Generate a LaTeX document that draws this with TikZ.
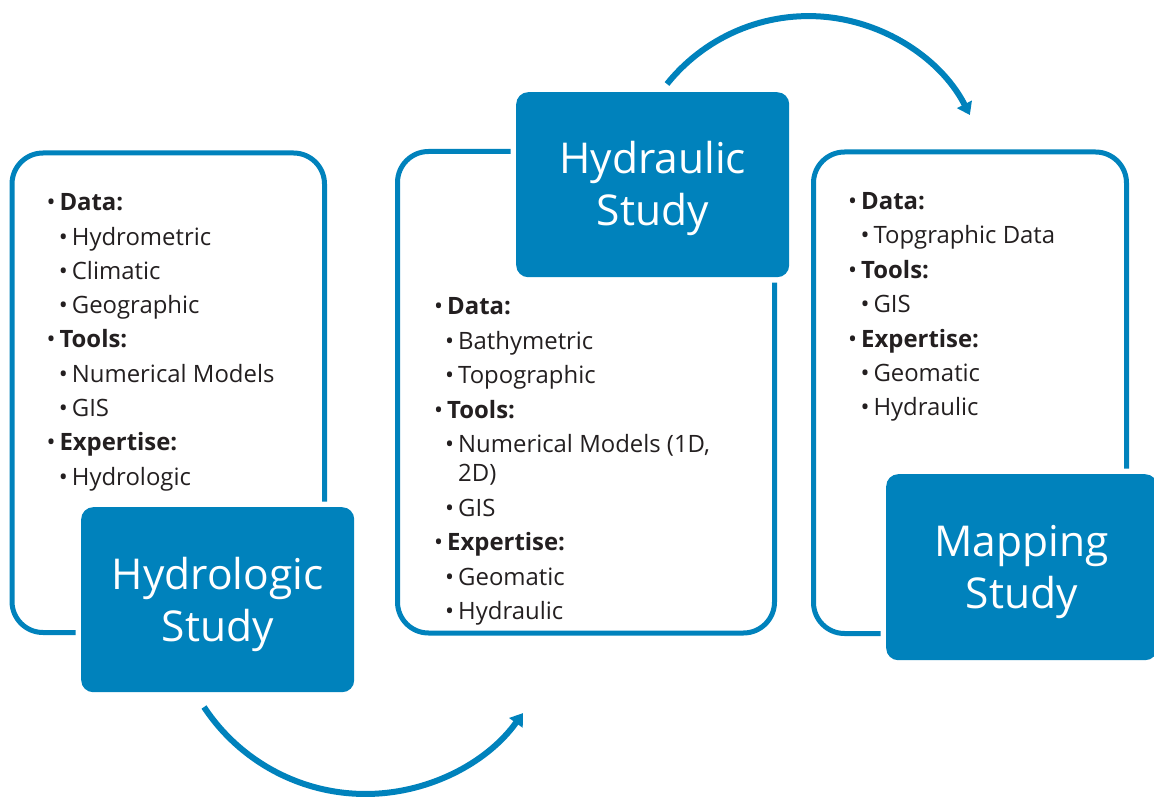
\documentclass[tikz,border=0pt]{standalone}
\usepackage{fontspec}
\setmainfont{Open Sans}
\usetikzlibrary{arrows.meta}

\definecolor{studyblue}{RGB}{0,130,188}
\definecolor{ink}{RGB}{35,31,32}

% list entries: bold heading with bullet, plain sub-entry with bullet
\newcommand\sectitem[1]{\llap{\mdseries\textbullet\hspace{4pt}}\textbf{#1}}
\newcommand\leafitem[1]{\llap{\textbullet\hspace{4pt}}#1}

\tikzset{
  panel/.style={draw=studyblue, line width=5pt, rounded corners=31pt},
  titlebox/.style={fill=studyblue, rounded corners=12pt, inner sep=0pt,
    anchor=north west,
    preaction={draw=white, line width=11pt}},
  titletext/.style={text=white, align=center, inner sep=0pt,
    font=\fontsize{42.5}{52}\selectfont},
  entry/.style={anchor=base west, inner sep=0pt, text=ink,
    font=\fontsize{23.9}{28}\selectfont},
  flow/.style={draw=studyblue, line width=6pt,
    -{Triangle[length=12pt,width=16pt]}},
}

\begin{document}
\begin{tikzpicture}[x=1pt,y=-1pt]
\useasboundingbox (0,0) rectangle (1154,799);

% outlined panels
\draw[panel] (12,153) rectangle (324.5,632.5);
\draw[panel] (397.5,151.5) rectangle (774.5,633);
\draw[panel] (813.5,152) rectangle (1126.5,633.5);

% filled title boxes
\node[titlebox, minimum width=273pt, minimum height=185pt] (hydrobox) at (81,507) {};
\node[titlebox, minimum width=273pt, minimum height=185pt] (hydrabox) at (516,92) {};
\node[titlebox, minimum width=271pt, minimum height=186pt] (mapbox) at (886,474) {};

\node[titletext, yshift=-5pt] (hydrotitle) at (hydrobox.center) {Hydrologic\\Study};
\node[titletext, yshift=-3.5pt] (hydratitle) at (hydrabox.center) {Hydraulic\\Study};
\node[titletext, yshift=-5pt] (maptitle) at (mapbox.center) {Mapping\\Study};

% hydrologic study contents
\node[entry] (a1) at (59.3,211)    {\sectitem{Data:}};
\node[entry] (a2) at (71.7,245.25) {\leafitem{Hydrometric}};
\node[entry] (a3) at (71.7,279.5)  {\leafitem{Climatic}};
\node[entry] (a4) at (71.7,313.75) {\leafitem{Geographic}};
\node[entry] (a5) at (59.3,348)    {\sectitem{Tools:}};
\node[entry] (a6) at (71.7,382.25) {\leafitem{Numerical Models}};
\node[entry] (a7) at (71.7,416.5)  {\leafitem{GIS}};
\node[entry] (a8) at (59.3,450.75) {\sectitem{Expertise:}};
\node[entry] (a9) at (71.7,485)    {\leafitem{Hydrologic}};

% hydraulic study contents
\node[entry] (b1) at (447,315)    {\sectitem{Data:}};
\node[entry] (b2) at (458,349.5)  {\leafitem{Bathymetric}};
\node[entry] (b3) at (458,384)    {\leafitem{Topographic}};
\node[entry] (b4) at (447,418.5)  {\sectitem{Tools:}};
\node[entry] (b5) at (458,453)    {\leafitem{Numerical Models (1D,}};
\node[entry] (b6) at (458,481)    {2D)};
\node[entry] (b7) at (458,516)    {\leafitem{GIS}};
\node[entry] (b8) at (447,550.5)  {\sectitem{Expertise:}};
\node[entry] (b9) at (458,585)    {\leafitem{Geomatic}};
\node[entry] (b10) at (458,619.5) {\leafitem{Hydraulic}};

% mapping study contents
\node[entry] (c1) at (861,209.5)   {\sectitem{Data:}};
\node[entry] (c2) at (873.3,243.9) {\leafitem{Topgraphic Data}};
\node[entry] (c3) at (861,278.3)   {\sectitem{Tools:}};
\node[entry] (c4) at (873.3,312.7) {\leafitem{GIS}};
\node[entry] (c5) at (861,347.1)   {\sectitem{Expertise:}};
\node[entry] (c6) at (873.3,381.5) {\leafitem{Geomatic}};
\node[entry] (c7) at (873.3,415.9) {\leafitem{Hydraulic}};

% curved arrows linking the studies
\coordinate (lowstart) at (204,707);
\coordinate (highstart) at (667,84);
\draw[flow] (lowstart) arc[start angle=146.6, end angle=35.6, radius=193.5];
\draw[flow] (highstart) arc[start angle=218.7, end angle=333, radius=181.2];
\end{tikzpicture}
\end{document}
